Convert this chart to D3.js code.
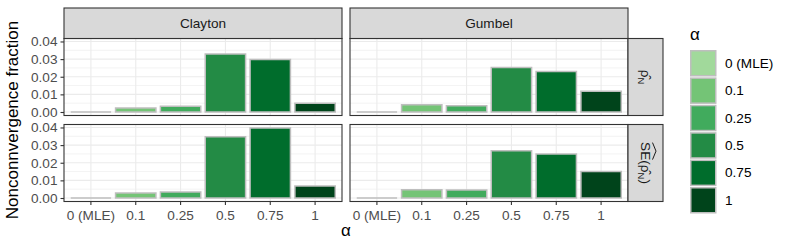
<!DOCTYPE html>
<html>
<head>
<meta charset="utf-8">
<script src="https://cdn.jsdelivr.net/npm/d3@7"></script>
<style>
  body { margin: 0; background: #fff; }
  svg { font-family: "Liberation Sans", Arial, sans-serif; }
</style>
</head>
<body>
<div id="chart"></div>
<script>
// data
const alphas = ["0 (MLE)", "0.1", "0.25", "0.5", "0.75", "1"]
const copulas = ["Clayton", "Gumbel"]
const claytonRho = [0, 0.0023, 0.0032, 0.0329, 0.0298, 0.0049]
const gumbelRho = [0, 0.0041, 0.0036, 0.0253, 0.0230, 0.0117]
const claytonSE = [0, 0.0028, 0.0034, 0.0347, 0.0397, 0.0068]
const gumbelSE = [0, 0.0047, 0.0046, 0.0268, 0.0249, 0.0151]
const yTicks = [0, 0.01, 0.02, 0.03, 0.04]
const greens = ["#a1d99b", "#74c476", "#41ab5d", "#238b45", "#006d2c", "#00441b"]

const width = 793, height = 249
const panelX = [64, 350], panelW = 278
const panelY = [38.5, 124.5], panelH = 77
const stripTop = 8, stripRight = 628, stripW = 35

const panels = [
  {col: 0, row: 0, values: claytonRho},
  {col: 1, row: 0, values: gumbelRho},
  {col: 0, row: 1, values: claytonSE},
  {col: 1, row: 1, values: gumbelSE}
]

const svg = d3.select("#chart").append("svg")
  .attr("width", width)
  .attr("height", height)

const color = d3.scaleOrdinal().domain(alphas).range(greens)

// shared y scale with ggplot's 5% expansion
const yMax = d3.max(panels, p => d3.max(p.values))
const yLo = -0.05 * yMax, yHi = yMax * 1.05

panels.forEach(function (p) {
  const x = d3.scaleBand()
    .domain(alphas)
    .range([panelX[p.col], panelX[p.col] + panelW])
    .paddingInner(0.1)
    .paddingOuter(0.15)
  const y = d3.scaleLinear()
    .domain([yLo, yHi])
    .range([panelY[p.row] + panelH, panelY[p.row]])

  const g = svg.append("g")

  g.append("rect")
    .attr("x", panelX[p.col]).attr("y", panelY[p.row])
    .attr("width", panelW).attr("height", panelH)
    .attr("fill", "#fff")

  // minor then major grid
  const minor = d3.range(0.005, yHi, 0.01)
  g.selectAll(".minor").data(minor).enter().append("line")
    .attr("x1", panelX[p.col]).attr("x2", panelX[p.col] + panelW)
    .attr("y1", d => y(d)).attr("y2", d => y(d))
    .attr("stroke", "#ebebeb").attr("stroke-width", 0.6)
  g.selectAll(".majory").data(yTicks).enter().append("line")
    .attr("x1", panelX[p.col]).attr("x2", panelX[p.col] + panelW)
    .attr("y1", d => y(d)).attr("y2", d => y(d))
    .attr("stroke", "#ebebeb").attr("stroke-width", 1.1)
  g.selectAll(".majorx").data(alphas).enter().append("line")
    .attr("x1", d => x(d) + x.bandwidth() / 2).attr("x2", d => x(d) + x.bandwidth() / 2)
    .attr("y1", panelY[p.row]).attr("y2", panelY[p.row] + panelH)
    .attr("stroke", "#ebebeb").attr("stroke-width", 1.1)

  // bars as paths so a zero bar still shows its outline
  g.selectAll(".bar").data(p.values).enter().append("path")
    .attr("d", function (d, i) {
      const x0 = x(alphas[i]), x1 = x0 + x.bandwidth()
      return "M" + x0 + "," + y(0) + "V" + y(d) + "H" + x1 + "V" + y(0) + "Z"
    })
    .attr("fill", (d, i) => color(alphas[i]))
    .attr("stroke", "#bebebe")
    .attr("stroke-width", 1.5)

  g.append("rect")
    .attr("x", panelX[p.col]).attr("y", panelY[p.row])
    .attr("width", panelW).attr("height", panelH)
    .attr("fill", "none").attr("stroke", "#333").attr("stroke-width", 1.1)

  // y axis on the left column only
  if (p.col === 0) {
    const yAxis = d3.axisLeft(y).tickValues(yTicks).tickSize(3.5).tickFormat(d3.format(".2f"))
    const ax = svg.append("g")
      .attr("transform", "translate(" + panelX[0] + ",0)")
      .call(yAxis)
    ax.select(".domain").remove()
    ax.selectAll(".tick line").attr("stroke", "#333").attr("stroke-width", 1.1)
    ax.selectAll(".tick text").attr("fill", "#4d4d4d").style("font-size", "13.6px")
      .attr("x", -6.5).attr("font-family", null)
  }
  // x axis on the bottom row only
  if (p.row === 1) {
    const xAxis = d3.axisBottom(x).tickSize(3.5)
    const ax = svg.append("g")
      .attr("transform", "translate(0," + (panelY[1] + panelH) + ")")
      .call(xAxis)
    ax.select(".domain").remove()
    ax.selectAll(".tick line").attr("stroke", "#333").attr("stroke-width", 1.1)
    ax.selectAll(".tick text").attr("fill", "#4d4d4d").style("font-size", "13.6px")
      .attr("dy", null).attr("y", 18).attr("font-family", null)
  }
})

// column strips
copulas.forEach(function (c, i) {
  svg.append("rect")
    .attr("x", panelX[i]).attr("y", stripTop)
    .attr("width", panelW).attr("height", panelY[0] - stripTop)
    .attr("fill", "#d9d9d9").attr("stroke", "#333").attr("stroke-width", 1.1)
  svg.append("text")
    .attr("x", panelX[i] + panelW / 2).attr("y", 28)
    .attr("text-anchor", "middle")
    .attr("fill", "#1a1a1a")
    .style("font-size", "13.6px")
    .text(c)
})

// row strips, labels rotated to read top to bottom
panelY.forEach(function (py, i) {
  svg.append("rect")
    .attr("x", stripRight).attr("y", py)
    .attr("width", stripW).attr("height", panelH)
    .attr("fill", "#d9d9d9").attr("stroke", "#333").attr("stroke-width", 1.1)

  const lab = svg.append("g")
    .attr("transform", "translate(" + (stripRight + stripW / 2 - 5) + "," + (py + panelH / 2) + ") rotate(90)")
  const t = lab.append("text")
    .attr("text-anchor", "middle")
    .attr("fill", "#1a1a1a")
    .style("font-size", "13.6px")
  if (i === 0) {
    t.append("tspan").text("ρ\u0302")
    t.append("tspan").attr("dy", 3).style("font-size", "9.5px").text("N")
  } else {
    t.append("tspan").text("SE(ρ\u0302")
    t.append("tspan").attr("dy", 3).style("font-size", "9.5px").text("N")
    t.append("tspan").attr("dy", -3).text(")")
    // wide hat over "SE"
    const tw = t.node().getComputedTextLength()
    const x0 = -tw / 2 + 0.5, x1 = x0 + 17
    lab.append("path")
      .attr("d", "M" + x0 + ",-12 L" + ((x0 + x1) / 2) + ",-15.5 L" + x1 + ",-12")
      .attr("fill", "none").attr("stroke", "#1a1a1a").attr("stroke-width", 1)
  }
})

// axis titles
svg.append("text")
  .attr("transform", "translate(18," + (panelY[0] + (panelY[1] + panelH - panelY[0]) / 2) + ") rotate(-90)")
  .attr("text-anchor", "middle")
  .style("font-size", "17px")
  .text("Nonconnvergence fraction")

svg.append("text")
  .attr("x", (panelX[0] + stripRight) / 2).attr("y", 236)
  .attr("text-anchor", "middle")
  .style("font-size", "17px")
  .text("α")

// legend
makeLegend(alphas, 690, 50)

function makeLegend(data, x, y) {
  svg.append("text")
    .attr("x", x).attr("y", y - 10)
    .style("font-size", "17px")
    .text("α")

  const keys = svg.selectAll(".legends")
    .data(data)
    .enter().append("g")
    .attr("class", "legends")
    .attr("transform", function (d, i) {
      return "translate(" + x + "," + (y + i * 27.4) + ")"
    })

  keys.append("rect")
    .attr("x", 0.75).attr("y", 0.75)
    .attr("width", 25).attr("height", 25)
    .attr("fill", d => color(d))
    .attr("stroke", "#bebebe")
    .attr("stroke-width", 1.5)

  keys.append("text")
    .attr("x", 35).attr("y", 13)
    .attr("dy", "0.35em")
    .style("font-size", "13.6px")
    .text(d => d)
}
</script>
</body>
</html>
